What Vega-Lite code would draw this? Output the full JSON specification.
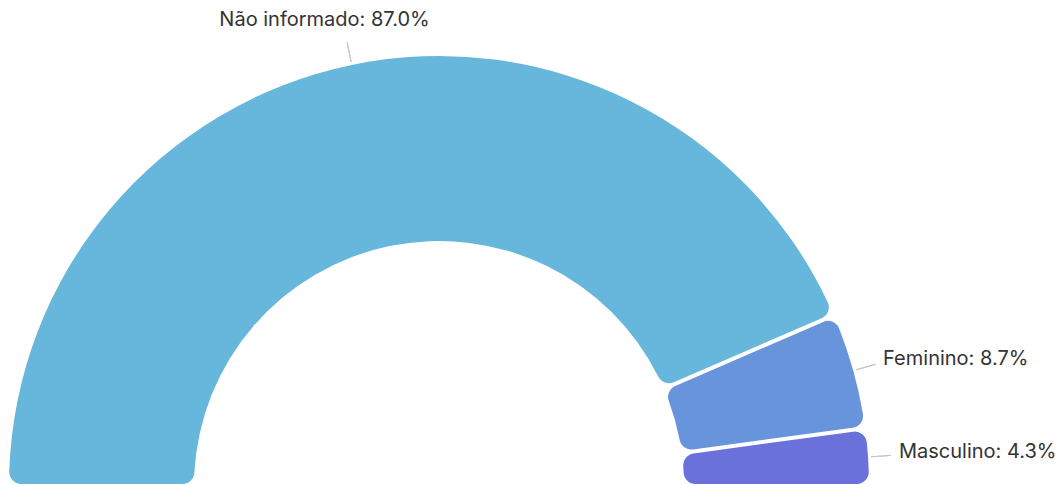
{
  "$schema": "https://vega.github.io/schema/vega-lite/v6.json",
  "width": 1064,
  "height": 485,
  "autosize": {"type": "fit", "contains": "padding"},
  "padding": 0,
  "background": "white",
  "view": {"stroke": null},
  "data": {
    "values": [
      {"categoria": "Não informado", "percentual": 87.0, "rotulo": "Não informado: 87.0%"},
      {"categoria": "Feminino", "percentual": 8.7, "rotulo": "Feminino: 8.7%"},
      {"categoria": "Masculino", "percentual": 4.3, "rotulo": "Masculino: 4.3%"}
    ]
  },
  "encoding": {
    "theta": {"field": "percentual", "type": "quantitative", "stack": true, "scale": {"range": [-1.5708, 1.5708]}},
    "order": {"field": "percentual", "sort": "descending"},
    "detail": {"field": "categoria", "type": "nominal"}
  },
  "layer": [
    {
      "mark": {"type": "arc", "innerRadius": 245, "outerRadius": 430, "cornerRadius": 12, "padAngle": 0.008,
               "x": {"expr": "width * 0.4126"}, "y": {"expr": "height + 2"}},
      "encoding": {
        "color": {"field": "categoria", "type": "nominal",
                  "scale": {"domain": ["Não informado", "Feminino", "Masculino"], "range": ["#67B6DB", "#6894DC", "#6A71DA"]},
                  "legend": null}
      }
    },
    {
      "mark": {"type": "arc", "innerRadius": 433, "outerRadius": 453, "padAngle": 3, "fill": null, "stroke": "#c4c4c4", "strokeWidth": 1,
               "x": {"expr": "width * 0.4126"}, "y": {"expr": "height + 2"}},
      "encoding": {}
    },
    {
      "mark": {"type": "text", "radius": 461, "font": "Inter", "fontSize": 20, "color": "#333333", "baseline": "middle",
               "x": {"expr": "width * 0.4126"}, "y": {"expr": "height + 2"},
               "align": {"expr": "datum.percentual > 50 ? 'center' : 'left'"},
               "dx": {"expr": "datum.percentual > 50 ? -21 : 0"},
               "dy": {"expr": "datum.percentual > 50 ? -15 : -3"}},
      "encoding": {"text": {"field": "rotulo", "type": "nominal"}}
    }
  ]
}
